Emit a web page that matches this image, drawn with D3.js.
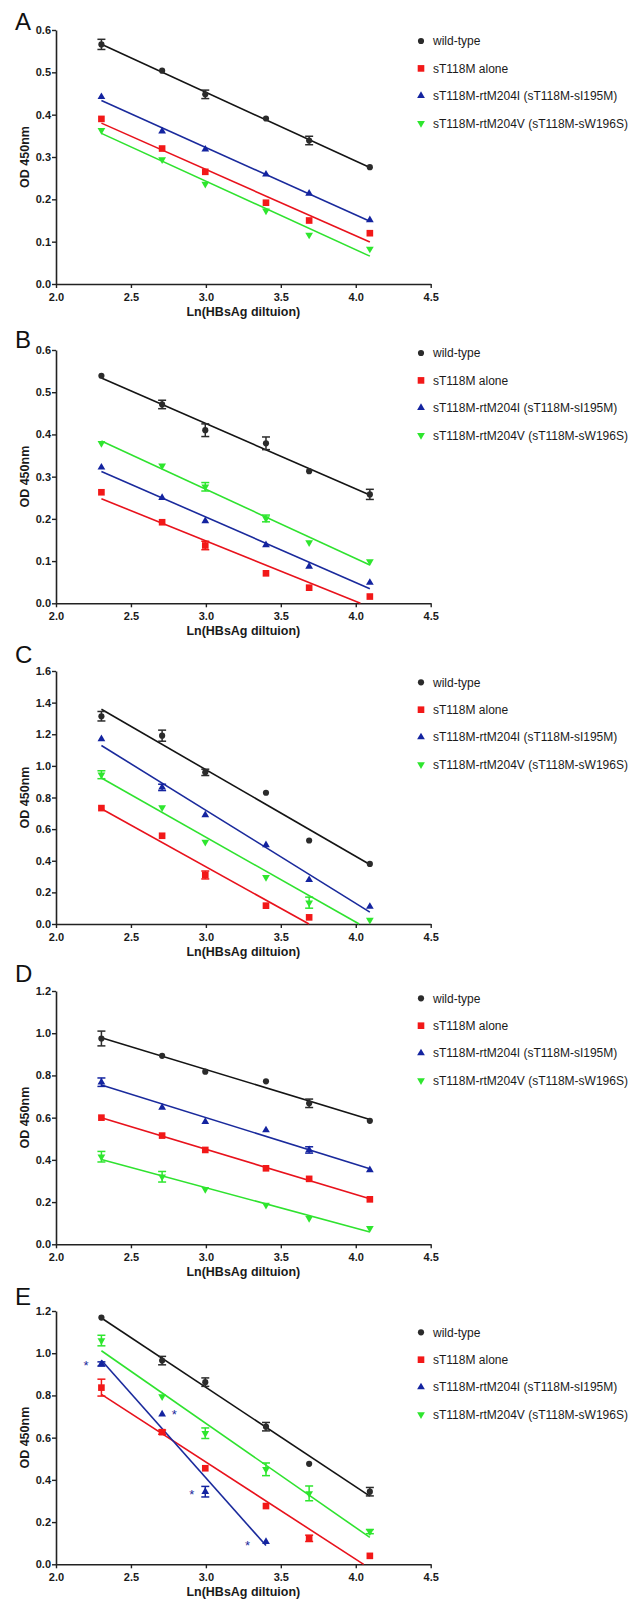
<!DOCTYPE html>
<html>
<head>
<meta charset="utf-8">
<script src="https://cdn.jsdelivr.net/npm/d3@7"></script>
<style>
  html, body { margin: 0; padding: 0; background: #fff; }
  svg { display: block; font-family: "Liberation Sans", Arial, Helvetica, sans-serif; }
</style>
</head>
<body>
<svg id="chart" width="632" height="1604"></svg>
<script>
// ---------- DATA ----------
const xDilution = [2.303, 2.708, 2.996, 3.401, 3.689, 4.094];
const xTicks = [2.0, 2.5, 3.0, 3.5, 4.0, 4.5];
const seriesNames = ["wild-type", "sT118M alone", "sT118M-rtM204I (sT118M-sI195M)", "sT118M-rtM204V (sT118M-sW196S)"];
const panelLetters = ["A", "B", "C", "D", "E"];
const yMaxes = [0.6, 0.6, 1.6, 1.2, 1.2];
const yTickSteps = [0.1, 0.1, 0.2, 0.2, 0.2];
const xTitle = "Ln(HBsAg diltuion)";
const yTitle = "OD 450nm";

// Panel A
const aWildType = [0.566, 0.504, 0.448, 0.391, 0.339, 0.276];
const aT118M    = [0.390, 0.320, 0.265, 0.192, 0.150, 0.120];
const aRtM204I  = [0.442, 0.361, 0.318, 0.259, 0.214, 0.151];
const aRtM204V  = [0.363, 0.294, 0.236, 0.173, 0.116, 0.083];
const aErrWild  = [0.012, 0, 0.010, 0, 0.010, 0];
const aErrT118M = [0, 0, 0, 0, 0, 0];
const aErrI     = [0, 0, 0, 0, 0, 0];
const aErrV     = [0, 0, 0, 0, 0, 0];

// Panel B
const bWildType = [0.539, 0.471, 0.410, 0.379, 0.313, 0.258];
const bT118M    = [0.263, 0.192, 0.137, 0.071, 0.037, 0.016];
const bRtM204I  = [0.322, 0.250, 0.195, 0.138, 0.087, 0.049];
const bRtM204V  = [0.379, 0.326, 0.276, 0.201, 0.144, 0.099];
const bErrWild  = [0, 0.010, 0.015, 0.015, 0, 0.012];
const bErrT118M = [0, 0, 0.010, 0, 0, 0];
const bErrI     = [0, 0, 0, 0, 0, 0];
const bErrV     = [0, 0, 0.010, 0.008, 0, 0];

// Panel C
const cWildType = [1.314, 1.191, 0.959, 0.830, 0.528, 0.380];
const cT118M    = [0.733, 0.558, 0.310, 0.116, 0.042, null];
const cRtM204I  = [1.170, 0.864, 0.690, 0.500, 0.279, 0.110];
const cRtM204V  = [0.944, 0.737, 0.518, 0.296, 0.135, 0.025];
const cErrWild  = [0.030, 0.035, 0.020, 0, 0, 0];
const cErrT118M = [0, 0, 0.025, 0, 0, 0];
const cErrI     = [0, 0.020, 0, 0, 0, 0];
const cErrV     = [0.025, 0, 0, 0, 0.035, 0];

// Panel D
const dWildType = [0.975, 0.893, 0.818, 0.772, 0.668, 0.585];
const dT118M    = [0.600, 0.515, 0.447, 0.360, 0.310, 0.213];
const dRtM204I  = [0.768, 0.648, 0.581, 0.541, 0.447, 0.352];
const dRtM204V  = [0.415, 0.320, 0.261, 0.186, 0.123, 0.076];
const dErrWild  = [0.035, 0, 0, 0, 0.020, 0];
const dErrT118M = [0, 0, 0, 0, 0, 0];
const dErrI     = [0.020, 0, 0, 0, 0.015, 0];
const dErrV     = [0.025, 0.025, 0, 0, 0, 0];

// Panel E
const eWildType = [1.169, 0.965, 0.863, 0.652, 0.476, 0.344];
const eT118M    = [0.837, 0.626, 0.455, 0.276, 0.123, 0.040];
const eRtM204I  = [0.949, 0.711, 0.344, 0.107, null, null];
const eRtM204V  = [1.060, 0.795, 0.621, 0.450, 0.336, 0.155];
const eErrWild  = [0, 0.020, 0.020, 0.020, 0, 0.020];
const eErrT118M = [0.040, 0.010, 0, 0, 0.015, 0];
const eErrI     = [0.010, 0, 0.025, 0, 0, 0];
const eErrV     = [0.025, 0, 0.025, 0.030, 0.035, 0.010];
const eStarX = [2.20, 2.79, 2.906, 3.278];
const eStarY = [0.953, 0.720, 0.341, 0.100];

// ---------- STYLE / LAYOUT ----------
const markerColors = ["#2b2b2b", "#f21818", "#1424a0", "#2ee62e"];
const lineColors   = ["#141414", "#e8121c", "#1a2a9c", "#2fe22f"];
const shapes = ["circle", "square", "triUp", "triDown"];

const panelValues = [
  [aWildType, aT118M, aRtM204I, aRtM204V],
  [bWildType, bT118M, bRtM204I, bRtM204V],
  [cWildType, cT118M, cRtM204I, cRtM204V],
  [dWildType, dT118M, dRtM204I, dRtM204V],
  [eWildType, eT118M, eRtM204I, eRtM204V]
];
const panelErrors = [
  [aErrWild, aErrT118M, aErrI, aErrV],
  [bErrWild, bErrT118M, bErrI, bErrV],
  [cErrWild, cErrT118M, cErrI, cErrV],
  [dErrWild, dErrT118M, dErrI, dErrV],
  [eErrWild, eErrT118M, eErrI, eErrV]
];
const panelTops    = [30, 350, 671, 991, 1311];
const panelBottoms = [284, 603.3, 924, 1244.3, 1564.3];
const legendTops   = [41, 353, 682.3, 998.3, 1332.3];
const letterBase   = [30, 348, 663, 982, 1305];

const xLeft = 56, xRight = 430.7;
const svg = d3.select("#chart");

function symbolPath(shape) {
  if (shape === "circle") return d3.symbol(d3.symbolCircle, 30)();
  if (shape === "square") return d3.symbol(d3.symbolSquare, 44)();
  return d3.symbol(d3.symbolTriangle, 26)();
}
function drawMarker(g, shape, color, x, y) {
  const p = g.append("path")
    .attr("d", symbolPath(shape))
    .attr("fill", color);
  if (shape === "triDown") p.attr("transform", `translate(${x},${y}) rotate(180)`);
  else p.attr("transform", `translate(${x},${y})`);
}
function fit(xs, ys) {
  const n = xs.length;
  const mx = d3.mean(xs), my = d3.mean(ys);
  let sxy = 0, sxx = 0;
  for (let i = 0; i < n; i++) { sxy += (xs[i]-mx)*(ys[i]-my); sxx += (xs[i]-mx)**2; }
  const slope = sxy / sxx;
  return { slope, intercept: my - slope*mx };
}

panelLetters.forEach((letter, p) => {
  const top = panelTops[p], bottom = panelBottoms[p];
  const x = d3.scaleLinear().domain([2.0, 4.5]).range([xLeft, xRight]);
  const y = d3.scaleLinear().domain([0, yMaxes[p]]).range([bottom, top]);
  const g = svg.append("g");

  // y axis
  const yTickVals = d3.range(0, yMaxes[p] + 1e-9, yTickSteps[p]);
  const yAxis = g.append("g")
    .attr("transform", `translate(${xLeft},0)`)
    .call(d3.axisLeft(y).tickValues(yTickVals).tickFormat(d3.format(".1f"))
      .tickSize(4).tickSizeOuter(0).tickPadding(1));
  // x axis
  const xAxis = g.append("g")
    .attr("transform", `translate(0,${bottom})`)
    .call(d3.axisBottom(x).tickValues(xTicks).tickFormat(d3.format(".1f"))
      .tickSize(4).tickSizeOuter(0).tickPadding(5));
  [yAxis, xAxis].forEach(ax => {
    ax.select(".domain").attr("stroke", "#222").attr("stroke-width", 1.6);
    ax.selectAll(".tick line").attr("stroke", "#222").attr("stroke-width", 1.4);
    ax.selectAll(".tick text").attr("fill", "#1a1a1a")
      .style("font-size", "11px").style("font-weight", "bold")
      .style("font-family", "'Liberation Sans', Arial, sans-serif");
  });

  // titles
  g.append("text").attr("x", (xLeft + xRight)/2).attr("y", bottom + 32)
    .attr("text-anchor", "middle").attr("fill", "#1a1a1a")
    .style("font-size", "12.5px").style("font-weight", "bold").text(xTitle);
  g.append("text").attr("transform", `translate(28.5,${(top+bottom)/2}) rotate(-90)`)
    .attr("text-anchor", "middle").attr("fill", "#1a1a1a")
    .style("font-size", "12.5px").style("font-weight", "bold").text(yTitle);
  g.append("text").attr("x", 15).attr("y", letterBase[p])
    .attr("fill", "#111").style("font-size", "24px").text(letter);

  const vals = panelValues[p], errs = panelErrors[p];

  // regression lines
  vals.forEach((series, s) => {
    const xs = [], ys = [];
    series.forEach((v, i) => { if (v != null) { xs.push(xDilution[i]); ys.push(v); } });
    const f = fit(xs, ys);
    let x0 = d3.min(xs), x1 = d3.max(xs);
    if (f.slope*x1 + f.intercept < 0) x1 = -f.intercept / f.slope;
    g.append("line")
      .attr("x1", x(x0)).attr("y1", y(f.slope*x0 + f.intercept))
      .attr("x2", x(x1)).attr("y2", y(f.slope*x1 + f.intercept))
      .attr("stroke", lineColors[s]).attr("stroke-width", 1.6);
  });

  // error bars and markers
  vals.forEach((series, s) => {
    series.forEach((v, i) => {
      if (v == null) return;
      const e = errs[s][i];
      const cx = x(xDilution[i]);
      if (e > 0) {
        const eg = g.append("g").attr("stroke", markerColors[s]).attr("stroke-width", 1.5);
        eg.append("line").attr("x1", cx).attr("x2", cx).attr("y1", y(v - e)).attr("y2", y(v + e));
        eg.append("line").attr("x1", cx - 4).attr("x2", cx + 4).attr("y1", y(v - e)).attr("y2", y(v - e));
        eg.append("line").attr("x1", cx - 4).attr("x2", cx + 4).attr("y1", y(v + e)).attr("y2", y(v + e));
      }
      drawMarker(g, shapes[s], markerColors[s], cx, y(v));
    });
  });

  // significance stars (panel E)
  if (letter === "E") {
    eStarX.forEach((sx, i) => {
      g.append("text").attr("x", x(sx)).attr("y", y(eStarY[i]))
        .attr("dy", "0.55em").attr("text-anchor", "middle")
        .attr("fill", "#1a2a9c").style("font-size", "13px").text("*");
    });
  }

  // legend
  seriesNames.forEach((name, s) => {
    const ly = legendTops[p] + s * 27.4;
    drawMarker(g, shapes[s], markerColors[s], 421, ly);
    g.append("text").attr("x", 433).attr("y", ly).attr("dy", "0.36em")
      .attr("fill", "#1a1a1a").style("font-size", "12px").text(name);
  });
});
</script>
</body>
</html>
